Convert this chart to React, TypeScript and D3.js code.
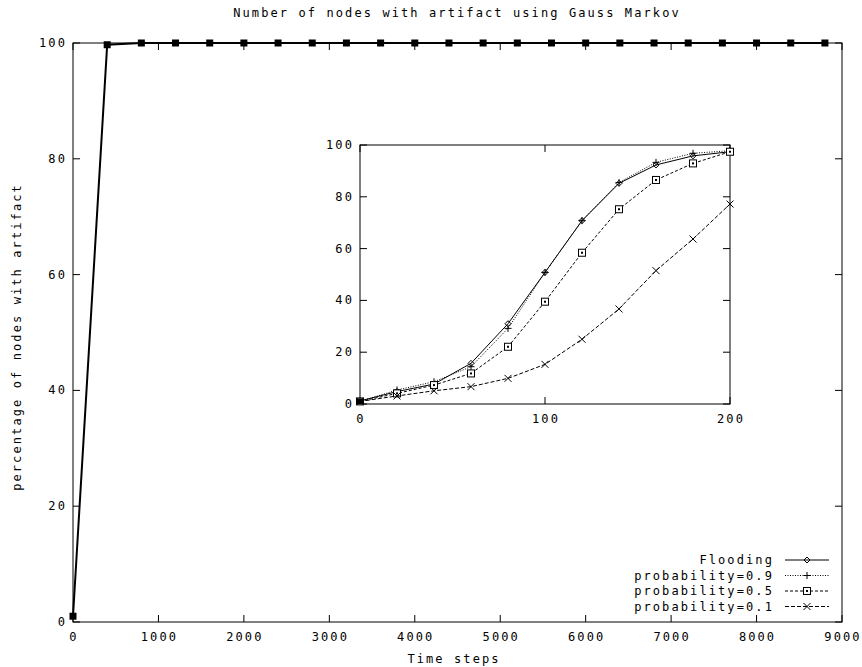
import React from 'react';
import * as d3 from 'd3';

// ---- data ----
const mainTime = [0, 400, 800, 1200, 1600, 2000, 2400, 2800, 3200, 3600, 4000, 4400, 4800, 5200, 5600, 6000, 6400, 6800, 7200, 7600, 8000, 8400, 8800];
const mainPct = [1, 99.7, 100, 100, 100, 100, 100, 100, 100, 100, 100, 100, 100, 100, 100, 100, 100, 100, 100, 100, 100, 100, 100];

const insetTime = [0, 20, 40, 60, 80, 100, 120, 140, 160, 180, 200];
const flooding = [1.2, 4.8, 7.7, 15.7, 31, 50.8, 70.8, 85.2, 92.3, 95.8, 97.4];
const prob09 = [1, 5.4, 8.6, 14.4, 29.2, 50.8, 70.8, 85.5, 93.3, 96.8, 97.8];
const prob05 = [1, 4.1, 7.3, 11.8, 22.1, 39.5, 58.4, 75.2, 86.5, 92.9, 97.4];
const prob01 = [1, 3.1, 5.1, 6.7, 9.9, 15.3, 25, 36.7, 51.5, 63.7, 77.2];

const seriesNames = ['Flooding', 'probability=0.9', 'probability=0.5', 'probability=0.1'];
const mainXTicks = [0, 1000, 2000, 3000, 4000, 5000, 6000, 7000, 8000, 9000];
const yTicks = [0, 20, 40, 60, 80, 100];
const insetXTicks = [0, 100, 200];

const titleText = 'Number of nodes with artifact using Gauss Markov';
const xLabelText = 'Time steps';
const yLabelText = 'percentage of nodes with artifact';

// ---- styles ----
const FONT = "'DejaVu Sans Mono', monospace";
const FS = 12;
const LS = 2.1;

type Kind = 'diamond' | 'plus' | 'square' | 'cross';
const kinds: Kind[] = ['diamond', 'plus', 'square', 'cross'];
const dashes = ['none', '1,1.5', '3,2', '4,2'];

function marker(kind: Kind, x: number, y: number, key: string) {
  const s = 3.5;
  if (kind === 'diamond') {
    return <path key={key} d={`M${x},${y - 3}L${x + 3},${y}L${x},${y + 3}L${x - 3},${y}Z`} fill="none" stroke="#000" strokeWidth={1} />;
  }
  if (kind === 'plus') {
    return <path key={key} d={`M${x - s},${y}H${x + s}M${x},${y - s}V${y + s}`} stroke="#000" strokeWidth={1} />;
  }
  if (kind === 'square') {
    return (
      <g key={key}>
        <rect x={x - 3.5} y={y - 3.5} width={7} height={7} fill="#fff" stroke="#000" strokeWidth={1} />
        <rect x={x - 1} y={y - 1} width={2} height={2} fill="#000" />
      </g>
    );
  }
  return <path key={key} d={`M${x - s},${y - s}L${x + s},${y + s}M${x - s},${y + s}L${x + s},${y - s}`} stroke="#000" strokeWidth={1} />;
}

export default function App() {
  const W = 862, H = 667;
  // main plot
  const mx = d3.scaleLinear().domain([0, 9000]).range([73, 842]);
  const my = d3.scaleLinear().domain([0, 100]).range([622, 43]);
  // inset
  const ix = d3.scaleLinear().domain([0, 200]).range([360, 730]);
  const iy = d3.scaleLinear().domain([0, 100]).range([404, 145]);

  const mainLine = d3.line<number>().x((_, i) => mx(mainTime[i])).y((d) => my(d));
  const insetSeries = [flooding, prob09, prob05, prob01];
  const insetLine = d3.line<number>().x((_, i) => ix(insetTime[i])).y((d) => iy(d)).curve(d3.curveLinear);

  const textProps = { fontFamily: FONT, fontSize: FS, letterSpacing: LS, fill: '#000' } as const;

  return (
    <svg width={W} height={H} style={{ position: 'absolute', left: 0, top: 0, background: '#fff' }}>
      <rect x={0} y={0} width={W} height={H} fill="#fff" />
      {/* title */}
      <text x={457} y={17} textAnchor="middle" {...textProps}>{titleText}</text>

      {/* main frame */}
      <rect x={mx(0)} y={my(100)} width={mx(9000) - mx(0)} height={my(0) - my(100)} fill="none" stroke="#000" strokeWidth={1} />
      {mainXTicks.map((t) => (
        <g key={'mx' + t}>
          <line x1={mx(t)} x2={mx(t)} y1={my(0)} y2={my(0) - 7} stroke="#000" />
          <line x1={mx(t)} x2={mx(t)} y1={my(100)} y2={my(100) + 7} stroke="#000" />
          <text x={mx(t) + 1} y={641} textAnchor="middle" {...textProps}>{t}</text>
        </g>
      ))}
      {yTicks.map((t) => (
        <g key={'my' + t}>
          <line x1={mx(0)} x2={mx(0) + 7} y1={my(t)} y2={my(t)} stroke="#000" />
          <line x1={mx(9000)} x2={mx(9000) - 7} y1={my(t)} y2={my(t)} stroke="#000" />
          <text x={67} y={my(t) + 4} textAnchor="end" {...textProps}>{t}</text>
        </g>
      ))}
      <text x={454} y={663} textAnchor="middle" {...textProps}>{xLabelText}</text>
      <text transform={`translate(21,${337}) rotate(-90)`} textAnchor="middle" {...textProps}>{yLabelText}</text>

      {/* main data */}
      <path d={mainLine(mainPct) || ''} fill="none" stroke="#000" strokeWidth={2} />
      {mainPct.map((v, i) => (
        <rect key={'mm' + i} x={mx(mainTime[i]) - 3.5} y={my(v) - 3.5} width={7} height={7} fill="#000" />
      ))}

      {/* legend */}
      {seriesNames.map((name, i) => {
        const y = 560 + i * 15.5;
        return (
          <g key={'lg' + i}>
            <text x={774} y={y + 4} textAnchor="end" {...textProps}>{name}</text>
            <line x1={785} x2={829} y1={y} y2={y} stroke="#000" strokeWidth={1} strokeDasharray={dashes[i]} />
            {marker(kinds[i], 807, y, 'lm' + i)}
          </g>
        );
      })}

      {/* inset */}
      <rect x={ix(0)} y={iy(100)} width={ix(200) - ix(0)} height={iy(0) - iy(100)} fill="#fff" stroke="#000" strokeWidth={1} />
      {insetXTicks.map((t) => (
        <g key={'ix' + t}>
          <line x1={ix(t)} x2={ix(t)} y1={iy(0)} y2={iy(0) - 7} stroke="#000" />
          <line x1={ix(t)} x2={ix(t)} y1={iy(100)} y2={iy(100) + 7} stroke="#000" />
          <text x={ix(t) + 1} y={423} textAnchor="middle" {...textProps}>{t}</text>
        </g>
      ))}
      {yTicks.map((t) => (
        <g key={'iy' + t}>
          <line x1={ix(0)} x2={ix(0) + 7} y1={iy(t)} y2={iy(t)} stroke="#000" />
          <line x1={ix(200)} x2={ix(200) - 7} y1={iy(t)} y2={iy(t)} stroke="#000" />
          <text x={354} y={iy(t) + 4} textAnchor="end" {...textProps}>{t}</text>
        </g>
      ))}
      {insetSeries.map((s, k) => (
        <g key={'is' + k}>
          <path d={insetLine(s) || ''} fill="none" stroke="#000" strokeWidth={1} strokeDasharray={dashes[k]} />
          {s.map((v, i) => marker(kinds[k], ix(insetTime[i]), iy(v), `im${k}-${i}`))}
        </g>
      ))}
      <rect x={ix(0) - 3} y={iy(1) - 3} width={6} height={6} fill="#000" />
    </svg>
  );
}
